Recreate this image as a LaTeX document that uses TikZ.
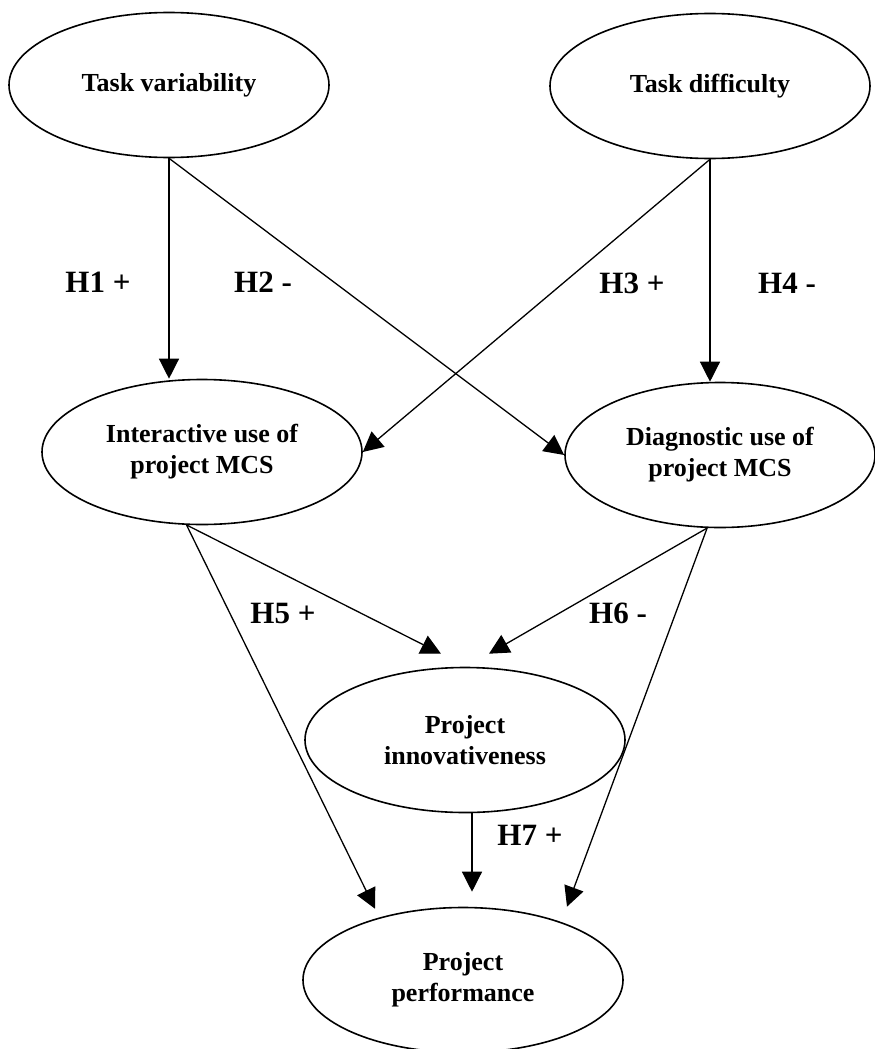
\documentclass[tikz,border=0pt]{standalone}
\usepackage{fontspec}
\setmainfont{Liberation Serif}
\usepackage{tikz}
\usetikzlibrary{shapes,arrows.meta}

\begin{document}
\begin{tikzpicture}[construct/.style={draw, ellipse, line width=1.6pt, minimum width=320pt, minimum height=145pt, inner sep=0pt, align=center, font=\fontsize{26}{31}\selectfont\bfseries},
			hyp/.style={font=\fontsize{31}{36}\selectfont\bfseries, inner sep=0pt},
			x=1pt, y=-1pt,
			>={Triangle[length=20pt,width=20pt]},   %Pfeilspitzen
			line width=1.3pt]
			%Bildbereich
			\useasboundingbox (0,0) rectangle (875,1049);
			% Konstrukte
			\node[construct] (tv) at (169,85) {Task variability};
			\node[construct] (td) at (710,86) {Task difficulty};
			\node[construct] (ia) at (202,452) {Interactive use of\\project MCS};
			\node[construct, minimum width=310pt] (da) at (720,455) {Diagnostic use of\\project MCS};
			\node[construct] (pi) at (465,740) {Project\\innovativeness};
			\node[construct] (pp) at (463,980) {Project\\performance};
			% Hypothesen (Pfeile)
			\draw[->] (tv.south) -- (tv.south |- ia.north);
			\draw[->] (tv.south) -- (da.west);
			\draw[->] (td.south) -- (ia.east);
			\draw[->] (td.south) -- (td.south |- da.north);
			\draw[->] (ia.258) -- ([xshift=-24pt,yshift=13pt]pi.north);
			\draw[->] (ia.258) -- ([xshift=-88pt,yshift=-2pt]pp.north);
			\draw[->] (da.260) -- ([xshift=24pt,yshift=13pt]pi.north);
			\draw[->] (da.260) -- ([xshift=104pt]pp.north);
			\draw[->] ([xshift=7pt]pi.south) -- ([xshift=9pt,yshift=15pt]pp.north);
			% Beschriftung
			\node[hyp] (h1) at (98,282) {H1 +};
			\node[hyp] (h2) at (263,282) {H2 -};
			\node[hyp] (h3) at (632,283) {H3 +};
			\node[hyp] (h4) at (787,283) {H4 -};
			\node[hyp] (h5) at (283,613) {H5 +};
			\node[hyp] (h6) at (618,613) {H6 -};
			\node[hyp] (h7) at (530,835) {H7 +};
		\end{tikzpicture}
\end{document}
